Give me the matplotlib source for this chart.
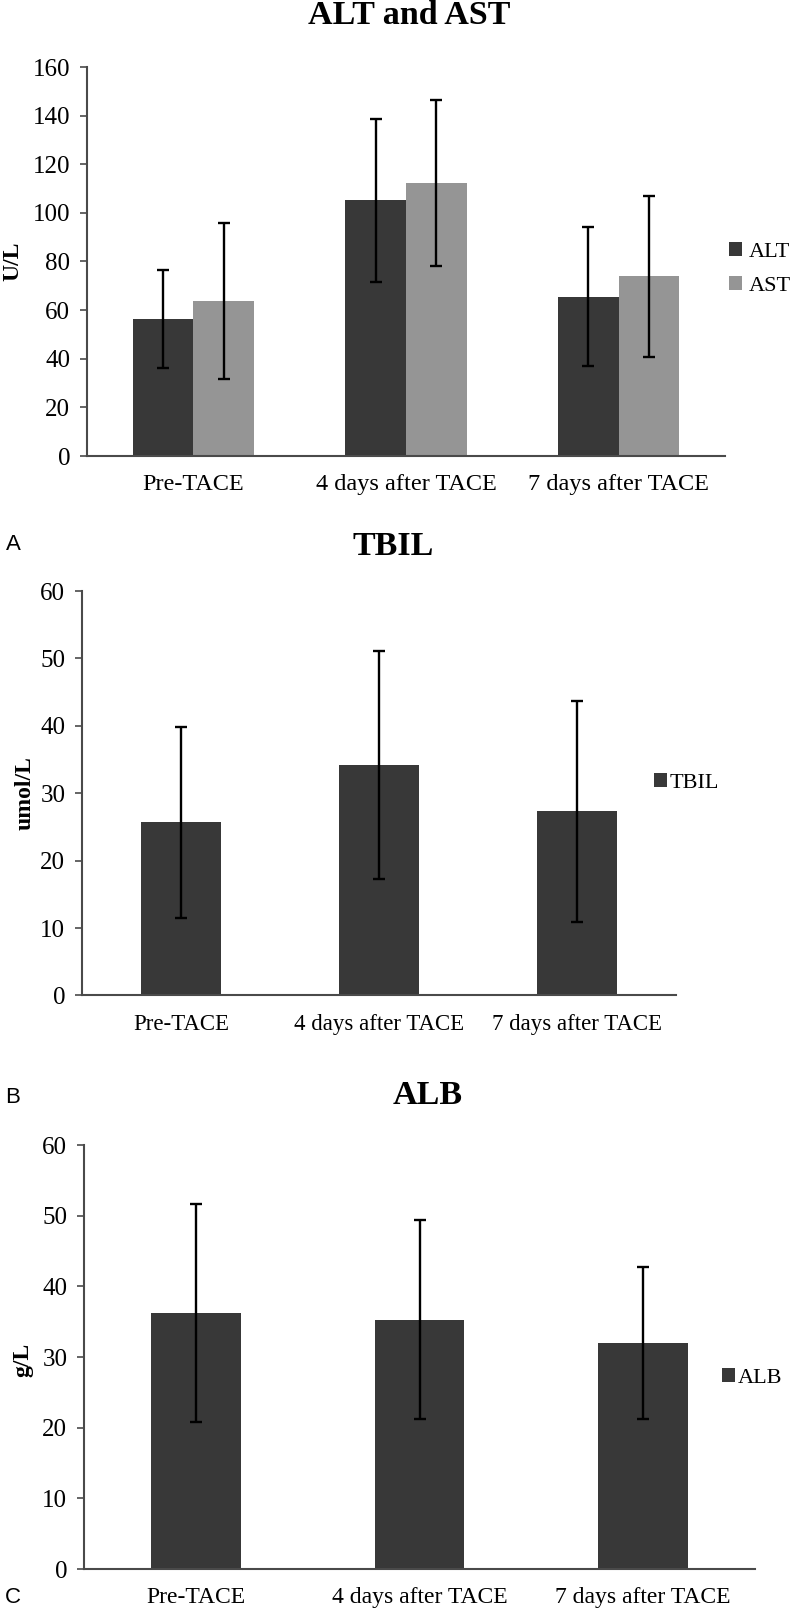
import numpy as np
import matplotlib
matplotlib.use("Agg")
import matplotlib.pyplot as plt

plt.rcParams['font.family'] = ['Liberation Serif', 'DejaVu Serif']

# data
categories = ['Pre-TACE', '4 days after TACE', '7 days after TACE']

alt_mean = [56.2, 105.2, 65.6]
alt_err = [20.2, 33.6, 28.5]
ast_mean = [63.7, 112.3, 73.9]
ast_err = [32.1, 34.2, 33.1]

tbil_mean = [25.7, 34.2, 27.3]
tbil_err = [14.2, 16.9, 16.4]

alb_mean = [36.2, 35.3, 32.0]
alb_err = [15.4, 14.1, 10.8]

dark = '#383838'
light = '#959595'
W, H = 800, 1610

fig = plt.figure(figsize=(W / 100, H / 100), dpi=100)


def px_axes(left, right, top, bottom):
    return fig.add_axes([left / W, 1 - bottom / H, (right - left) / W, (bottom - top) / H])


def style(ax, ymax, step, catsize):
    ax.set_xlim(-0.5, 2.5)
    ax.set_ylim(0, ymax)
    ax.set_yticks(np.arange(0, ymax + 1, step))
    ax.set_xticks(range(len(categories)))
    ax.set_xticklabels(categories, fontsize=catsize)
    for s in ['top', 'right']:
        ax.spines[s].set_visible(False)
    for s in ['left', 'bottom']:
        ax.spines[s].set_color('#4a4a4a')
        ax.spines[s].set_linewidth(1.5)
    ax.tick_params(axis='y', length=5, width=1.2, color='#4a4a4a', labelsize=18, pad=7)
    ax.tick_params(axis='x', length=0, pad=13)


ebar = dict(ecolor='black', elinewidth=1.7, capsize=4, capthick=1.7)
x = np.arange(len(categories))
leg = dict(frameon=False, fontsize=16, handlelength=0.6, handleheight=0.6,
           borderpad=0, borderaxespad=0)

# A: ALT and AST
axA = px_axes(87, 725, 67, 456)
w = 1 / 3.5
axA.bar(x - w / 2, alt_mean, w, color=dark, yerr=alt_err, error_kw=ebar, label='ALT')
axA.bar(x + w / 2, ast_mean, w, color=light, yerr=ast_err, error_kw=ebar, label='AST')
style(axA, 160, 20, 17.5)
axA.legend(loc='center left', bbox_to_anchor=(729 / W, 1 - 269 / H), bbox_transform=fig.transFigure,
           handletextpad=0.3, labelspacing=0.65, **leg)
fig.text(409 / W, 1 - 16 / H, 'ALT and AST', ha='center', va='center', fontsize=24.5, fontweight='bold')
fig.text(13 / W, 1 - 261 / H, 'U/L', ha='center', va='center', rotation=90, fontsize=17, fontweight='bold')

# B: TBIL
axB = px_axes(82, 676, 591, 995.5)
wb = 1 / 2.5
axB.bar(x, tbil_mean, wb, color=dark, yerr=tbil_err, error_kw=ebar, label='TBIL')
style(axB, 60, 10, 16.5)
axB.legend(loc='center left', bbox_to_anchor=(654 / W, 1 - 783 / H), bbox_transform=fig.transFigure,
           handletextpad=0.1, **leg)
fig.text(393 / W, 1 - 546 / H, 'TBIL', ha='center', va='center', fontsize=24.5, fontweight='bold')
fig.text(25 / W, 1 - 793 / H, 'umol/L', ha='center', va='center', rotation=90, fontsize=17, fontweight='bold')

# C: ALB
axC = px_axes(84, 755, 1145, 1569)
axC.bar(x, alb_mean, wb, color=dark, yerr=alb_err, error_kw=ebar, label='ALB')
style(axC, 60, 10, 17)
axC.legend(loc='center left', bbox_to_anchor=(722 / W, 1 - 1378 / H), bbox_transform=fig.transFigure,
           handletextpad=0.1, **leg)
fig.text(428 / W, 1 - 1095 / H, 'ALB', ha='center', va='center', fontsize=24.5, fontweight='bold')
fig.text(23 / W, 1 - 1360 / H, 'g/L', ha='center', va='center', rotation=90, fontsize=17, fontweight='bold')

# panel letters
for letter, yy in [('A', 545), ('B', 1097), ('C', 1597)]:
    fig.text(13 / W, 1 - yy / H, letter, ha='center', va='center', fontsize=16,
             family=['Liberation Sans', 'DejaVu Sans'])

fig.savefig('out.png', dpi=100, facecolor='white')
